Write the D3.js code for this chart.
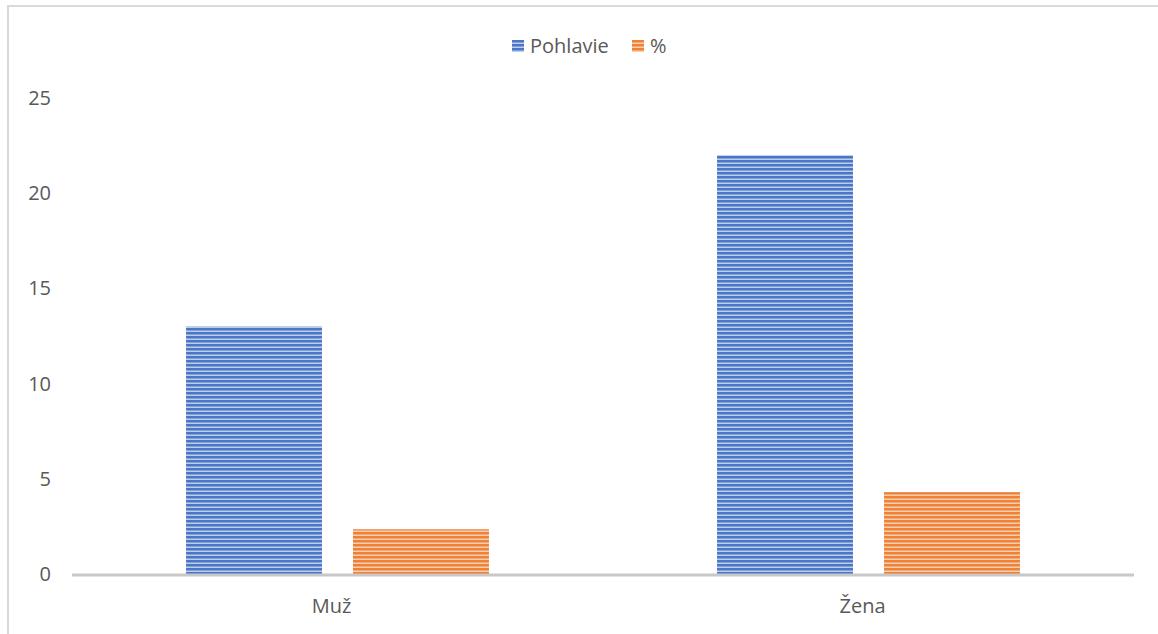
<!DOCTYPE html>
<html><head><meta charset="utf-8">
<script src="https://cdn.jsdelivr.net/npm/d3@7"></script>
<style>body{margin:0;background:#fff;} svg{display:block;font-family:"Open Sans",Lato,sans-serif;}</style>
</head><body>
<svg id="c" width="1158" height="634"></svg>
<script>
const categories = ["Muž", "Žena"];
const seriesNames = ["Pohlavie", "%"];
const pohlavie = [13, 22];
const percent = [2.35, 4.3];
const yTicks = [0, 5, 10, 15, 20, 25];
const colors = ["#4a76c6", "#ee8136"];
const lightColors = ["#bccdec", "#f9cdae"];
const midColors = ["#86a3d9", "#f3a878"];

const svg = d3.select("#c");
const W = 1158, H = 634;
const m = {left: 72, right: 1134, top: 98, bottom: 574};

// border
svg.append("rect").attr("x", 8).attr("y", 6).attr("width", W + 10).attr("height", H + 10)
  .attr("fill", "none").attr("stroke", "#d9d9d9").attr("stroke-width", 2);

// patterns
const defs = svg.append("defs");
colors.forEach((c, i) => {
  const p = defs.append("pattern").attr("id", "pat" + i).attr("patternUnits", "userSpaceOnUse")
    .attr("width", 8).attr("height", 4);
  p.append("rect").attr("width", 8).attr("height", 4).attr("fill", c);
  p.append("rect").attr("y", 2).attr("width", 8).attr("height", 1).attr("fill", midColors[i]);
  p.append("rect").attr("y", 3).attr("width", 8).attr("height", 1).attr("fill", lightColors[i]);
});

const x0 = d3.scaleBand().domain(categories).range([m.left, m.right]);
const x1 = d3.scaleBand().domain(seriesNames).range([0, x0.bandwidth()]).paddingInner(0.186).paddingOuter(0.683);
const y = d3.scaleLinear().domain([0, 25]).range([m.bottom, m.top]);

// y labels
svg.append("g").selectAll("text").data(yTicks).join("text")
  .attr("x", 51).attr("y", d => y(d)).attr("dy", "0.35em").attr("text-anchor", "end")
  .attr("font-size", 20).attr("fill", "#595959").text(d => d);

const data = [pohlavie, percent];
const g = svg.append("g");
seriesNames.forEach((s, si) => {
  g.selectAll(".b" + si).data(categories).join("rect")
    .attr("x", c => x0(c) + x1(s))
    .attr("width", x1.bandwidth())
    .attr("y", (c, ci) => y(data[si][ci]))
    .attr("height", (c, ci) => y(0) - y(data[si][ci]))
    .attr("fill", "url(#pat" + si + ")");
});

// x axis line
svg.append("line").attr("x1", m.left).attr("x2", m.right).attr("y1", y(0) + 1).attr("y2", y(0) + 1)
  .attr("stroke", "#c8c8c8").attr("stroke-width", 3);

// x labels
svg.append("g").selectAll("text").data(categories).join("text")
  .attr("x", c => x0(c) + x0.bandwidth() / 2 - 6).attr("y", 613).attr("text-anchor", "middle")
  .attr("font-size", 20).attr("fill", "#595959").text(d => d);

// legend
const leg = [{x: 512, tx: 530}, {x: 632, tx: 650}];
seriesNames.forEach((s, i) => {
  svg.append("rect").attr("x", leg[i].x).attr("y", 40).attr("width", 12).attr("height", 12).attr("fill", "url(#pat" + i + ")");
  svg.append("text").attr("x", leg[i].tx).attr("y", 53).attr("font-size", 20).attr("fill", "#595959").text(s);
});
</script>
</body></html>
